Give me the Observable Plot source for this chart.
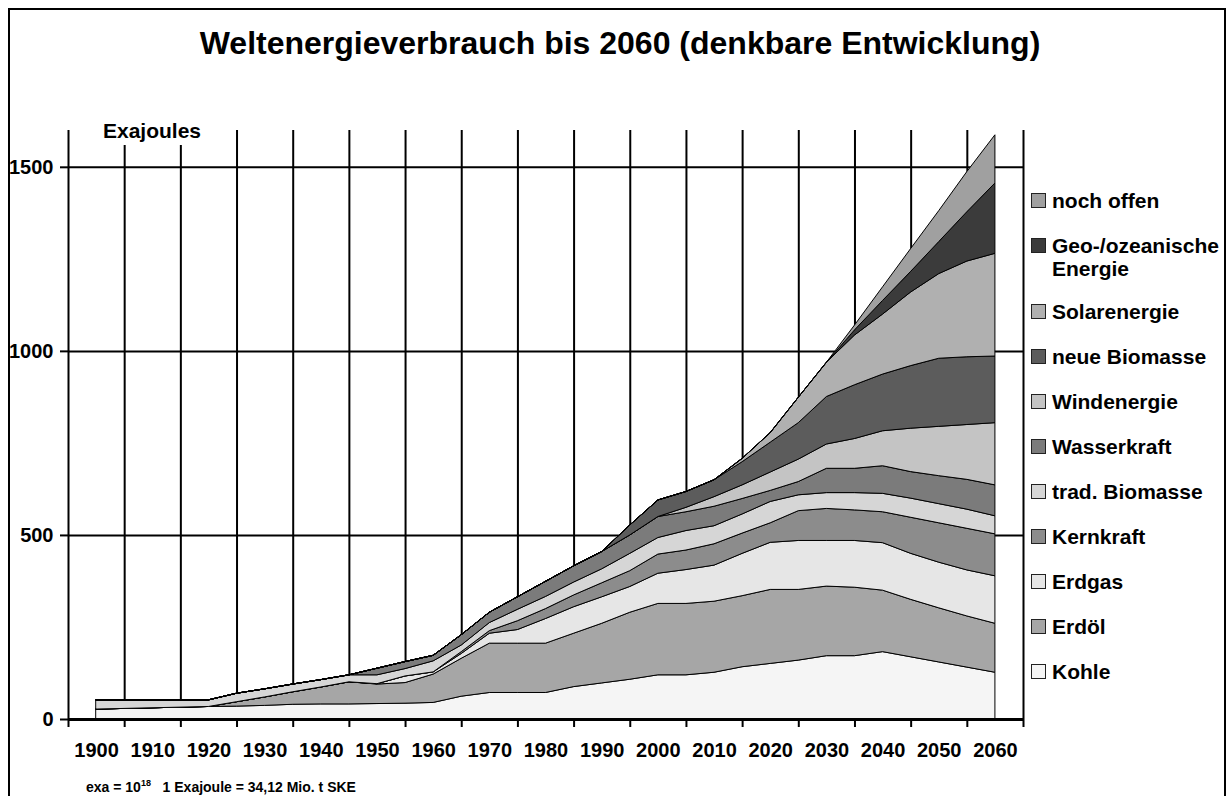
<!DOCTYPE html>
<html lang="de">
<head>
<meta charset="utf-8">
<script src="https://cdn.jsdelivr.net/npm/d3@7"></script>
<script src="https://cdn.jsdelivr.net/npm/@observablehq/plot@0.6"></script>
<style>
html,body{margin:0;padding:0;background:#fff;}
#wrap{position:relative;width:1229px;height:796px;overflow:hidden;background:#fff;font-family:"Liberation Sans",Arial,Helvetica,sans-serif;font-weight:bold;color:#000;}
#wrap svg{position:absolute;left:0;top:0;}
#frame{position:absolute;left:8px;top:8px;width:1218px;height:820px;border:2px solid #000;box-sizing:border-box;pointer-events:none;}
#title{position:absolute;left:0;width:1240px;top:27px;text-align:center;font-size:32px;line-height:32px;white-space:nowrap;}
#unit{position:absolute;left:101px;top:120px;font-size:21px;line-height:21px;padding:0 2px 4px 2px;background:#fff;}
#note{position:absolute;left:86px;top:780px;font-size:14px;line-height:14px;white-space:pre;}
#note sup{font-size:9px;line-height:0;vertical-align:6px;}
.sw{position:absolute;left:1031px;width:15px;height:15px;box-sizing:border-box;border:1px solid #222;}
.lt{position:absolute;left:1052px;font-size:21px;line-height:23px;white-space:pre-line;}
</style>
</head>
<body>
<div id="wrap"></div>
<script>
// ---- data (Exajoules per energy source) ----
const years = [1900,1920,1925,1930,1935,1940,1945,1950,1955,1960,1965,1970,1975,1980,1985,1990,1995,2000,2005,2010,2015,2020,2025,2030,2035,2040,2045,2050,2055,2060];
const kohle        = [27,34,35,37,40,41,41,42,43,45,62,72,72,72,88,98,108,120,120,127,142,151,160,172,172,183,169,155,141,127];
const erdoel       = [0,0,12,23,34,46,60,53,56,77,103,134,134,134,145,162,182,194,194,193,193,201,192,189,186,167,156,147,139,133];
const erdgas       = [0,0,0,0,0,0,0,1,18,6,13,27,37,67,72,72,70,82,92,98,115,128,133,124,127,129,125,124,125,129];
const kernkraft    = [0,0,0,0,0,0,0,0,0,0,5,7,24,27,32,38,43,52,53,58,55,53,81,87,83,84,98,107,113,114];
const tradBiomasse = [25,18,23,22,21,20,19,24,20,30,18,22,31,33,35,38,47,45,53,49,52,58,43,43,47,50,52,52,52,49];
const wasserkraft  = [0,0,0,0,0,0,0,18,19,15,28,28,34,41,44,47,50,57,51,53,42,30,36,66,66,75,72,76,81,84];
const windenergie  = [0,0,0,0,0,0,0,0,0,0,0,0,0,0,0,0,0,0,12,26,37,50,61,66,81,95,118,134,149,169];
const neueBiomasse = [0,0,0,0,0,0,0,0,0,0,0,0,0,0,0,0,27,45,43,46,63,81,99,129,146,154,170,185,184,181];
const solarenergie = [0,0,0,0,0,0,0,0,0,0,0,0,0,0,0,0,0,0,0,0,9,26,69,93,135,163,200,230,260,279];
const geoOzean     = [0,0,0,0,0,0,0,0,0,0,0,0,0,0,0,0,0,0,0,0,0,0,0,0,14,37,56,87,134,191];
const nochOffen    = [0,0,0,0,0,0,0,0,0,0,0,0,0,0,0,0,0,0,0,0,0,0,0,0,13,37,62,84,109,131];

const seriesNames  = ["Kohle","Erdöl","Erdgas","Kernkraft","trad. Biomasse","Wasserkraft","Windenergie","neue Biomasse","Solarenergie","Geo-/ozeanische Energie","noch offen"];
const seriesValues = [kohle,erdoel,erdgas,kernkraft,tradBiomasse,wasserkraft,windenergie,neueBiomasse,solarenergie,geoOzean,nochOffen];
const seriesColors = ["#f5f5f5","#a6a6a6","#e6e6e6","#8c8c8c","#d6d6d6","#7b7b7b","#c4c4c4","#5c5c5c","#b0b0b0","#3b3b3b","#a0a0a0"];

const xLabels = [1900,1910,1920,1930,1940,1950,1960,1970,1980,1990,2000,2010,2020,2030,2040,2050,2060];
const yTicks  = [0,500,1000,1500];

const titleText = "Weltenergieverbrauch bis 2060 (denkbare Entwicklung)";
const unitText  = "Exajoules";

// ---- build table ----
const data = seriesNames.flatMap((name, i) =>
  years.map((year, j) => ({year, value: seriesValues[i][j], series: name})));

// category boundaries (gridlines sit between the labelled years)
const gridX = xLabels.map(d => d - 5).concat([xLabels[xLabels.length - 1] + 5]);

const chart = Plot.plot({
  width: 1229,
  height: 796,
  marginTop: 130,
  marginRight: 206,
  marginBottom: 77,
  marginLeft: 68,
  x: {domain: [gridX[0], gridX[gridX.length - 1]]},
  y: {domain: [0, 1600]},
  color: {domain: seriesNames, range: seriesColors},
  style: {fontFamily: '"Liberation Sans", Arial, sans-serif', fontWeight: "bold", fontSize: "20px", color: "#000", background: "transparent", overflow: "visible"},
  marks: [
    Plot.ruleY(yTicks.slice(1), {stroke: "#000", strokeWidth: 2}),
    Plot.ruleX(gridX, {stroke: "#000", strokeWidth: 2, insetBottom: -8}),
    Plot.areaY(data, {x: "year", y: "value", z: "series", fill: "series", order: seriesNames,
                      stroke: "#000", strokeWidth: 1, strokeLinejoin: "round"}),
    Plot.ruleY([0], {stroke: "#000", strokeWidth: 3}),
    Plot.axisY({ticks: yTicks, tickSize: 8, tickPadding: 7, strokeWidth: 2, label: null,
                tickFormat: d => String(d), fontSize: 20, fontWeight: "bold"}),
    Plot.axisX({ticks: xLabels, tickSize: 0, tickPadding: 23, label: null,
                tickFormat: d => String(d), fontSize: 20, fontWeight: "bold"})
  ]
});

const wrap = document.getElementById("wrap");
wrap.appendChild(chart);

function addDiv(id, cls, html, style) {
  const d = document.createElement("div");
  if (id) d.id = id;
  if (cls) d.className = cls;
  d.innerHTML = html;
  if (style) Object.assign(d.style, style);
  wrap.appendChild(d);
  return d;
}

addDiv("title", null, titleText);
addDiv("unit", null, unitText);
addDiv("note", null, "exa = 10<sup>18</sup>   1 Exajoule = 34,12 Mio. t SKE");

// legend (top = last series)
let legendTop = 193;
for (let i = seriesNames.length - 1; i >= 0; i--) {
  const label = seriesNames[i].replace("/ozeanische ", "/ozeanische\n");
  const lines = label.split("\n").length;
  addDiv(null, "sw", "", {top: legendTop + "px", background: seriesColors[i]});
  const t = addDiv(null, "lt", "", {top: (legendTop - 4) + "px"});
  t.textContent = label;
  legendTop += 45 + (lines - 1) * 21;
}
addDiv("frame", null, "");
</script>
</body>
</html>
